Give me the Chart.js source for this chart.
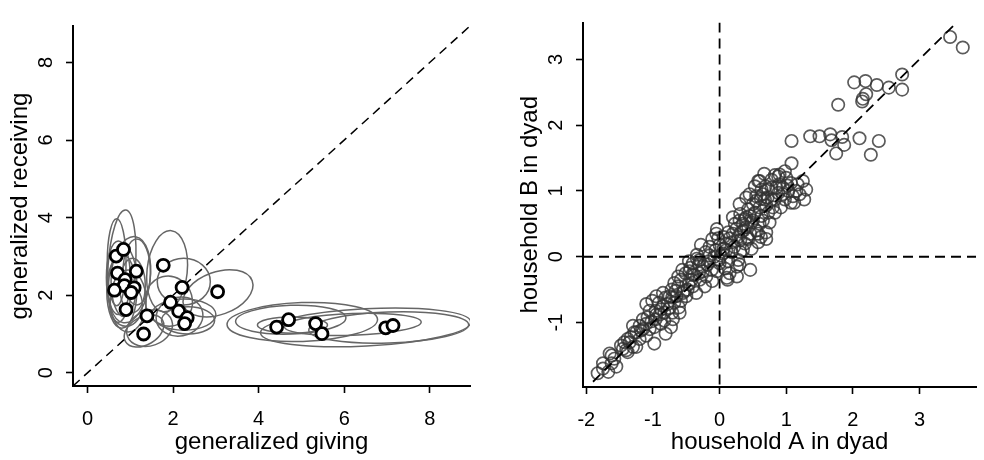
<!DOCTYPE html>
<html>
<head>
<meta charset="utf-8">
<script src="https://cdn.jsdelivr.net/npm/chart.js@4.4.1/dist/chart.umd.min.js"></script>
<style>
html, body { margin: 0; padding: 0; background: #fff; }
.panel { position: absolute; top: 0; width: 492px; height: 460px; }
#left-panel { left: 0; }
#right-panel { left: 492px; }
</style>
</head>
<body>
<div class="panel" id="left-panel"><canvas id="giving-chart" width="492" height="460"></canvas></div>
<div class="panel" id="right-panel"><canvas id="dyad-chart" width="492" height="460"></canvas></div>
<script>
// ---- left panel: generalized giving vs receiving ----
const givingX = [0.67, 0.84, 0.70, 1.14, 0.88, 0.86, 0.63, 1.09, 1.02, 0.90,
                 1.77, 2.21, 3.04, 1.94, 1.39, 2.13, 2.33, 2.27, 1.31,
                 4.42, 4.70, 5.33, 5.48, 6.97, 7.14];
const receivingY = [3.01, 3.18, 2.57, 2.62, 2.40, 2.25, 2.13, 2.19, 2.07, 1.63,
                    2.77, 2.20, 2.09, 1.82, 1.47, 1.59, 1.42, 1.27, 1.00,
                    1.18, 1.37, 1.27, 1.01, 1.16, 1.22];

// uncertainty ellipses: centre, half-widths, tilt (degrees)
const ellCx   = [0.80, 0.68, 0.72, 0.98, 0.85, 0.80, 1.05, 0.95, 1.15, 0.90,
                 1.86, 2.25, 3.05, 1.90, 1.45, 2.25, 2.35, 2.15, 1.32,
                 5.02, 4.75, 4.79, 6.50, 7.04, 6.20];
const ellCy   = [2.75, 2.85, 2.45, 2.40, 2.35, 2.10, 2.25, 1.85, 2.60, 1.75,
                 2.62, 2.35, 2.05, 1.85, 1.15, 1.50, 1.35, 1.45, 1.08,
                 1.31, 1.37, 1.23, 1.17, 1.17, 1.25];
const ellRx   = [0.32, 0.22, 0.28, 0.48, 0.30, 0.35, 0.30, 0.42, 0.32, 0.38,
                 0.47, 0.62, 0.85, 0.55, 0.55, 0.75, 0.62, 0.55, 0.50,
                 1.76, 1.29, 0.82, 2.46, 1.87, 1.60];
const ellRy   = [1.45, 1.12, 0.95, 1.12, 0.90, 0.95, 0.70, 0.80, 0.85, 0.55,
                 1.05, 0.60, 0.55, 0.65, 0.45, 0.40, 0.35, 0.50, 0.36,
                 0.50, 0.37, 0.21, 0.48, 0.40, 0.28];
const ellTilt = [-4, 0, 0, -8, 0, 0, 0, 0, 0, 0,
                 -6, 0, 20, 15, 20, 0, 0, 10, 30,
                 2, 2, 0, 3, 2, 2];

const leftXTicks = [0, 2, 4, 6, 8];
const leftYTicks = [0, 2, 4, 6, 8];

// ---- right panel: household A vs household B ----
const householdA = [
  3.46, 3.65, 2.74, 2.74, 2.54, 2.36, 2.19, 2.02, 2.20, 2.15, 2.14, 1.78, 2.10, 2.39, 2.27,
  1.36, 1.50, 1.66, 1.68, 1.84, 1.87, 1.75, 1.08, 1.08, 0.98, 0.90, 0.83, 0.67, 0.58, 0.78,
  0.53, 0.63, 0.73, 0.55, 0.68, 0.83, 0.98, 1.07, 1.17, 1.25, 1.20, 1.27, 1.12, 1.30, 1.03,
  0.88, 0.60, 0.69, 0.88, 0.78, 1.07, 0.95, 1.15,
  0.83, 0.73, 0.63, 0.53, 0.43, 0.31, 0.38, 0.48, 0.60, 0.75, 0.70, 0.58, 0.46, 0.36, 0.23,
  0.13, 0.06, -0.04, -0.11, 0.18, 0.31, 0.43, 0.58, 0.70, 0.31, 0.18, 0.06, -0.06, -0.21, -0.34,
  -0.46, -0.31, -0.16, -0.01, 0.13, 0.28, 0.46, 0.26, -0.56, -0.41, 0.26, 0.12, -0.11, -0.31, -0.51,
  -0.58, -0.46, -0.53, -0.66, -0.71, -0.58, -0.78, -0.61, -0.71, -0.83, -0.96, -1.05, -1.10, -1.01, -0.91,
  -0.81, -1.08, -0.96, -0.83, -0.73, -0.98, -1.10, -1.15, -1.25, -1.10, -1.20, -1.33, -1.43, -1.30, -1.38,
  -1.25, -0.98, -1.62, -1.62, -1.75, -1.55, -1.67, -1.83, -1.65, -1.38, -1.28, -1.40, -0.81, -0.68, -0.44,
  -0.34, 0.11, -0.04,
  -0.25, -0.15, 0.02, 0.10, 0.20, 0.35, 0.50, 0.40, 0.30, 0.60, 0.45, 0.25, 0.00, -0.20, -0.40,
  -0.50, -0.62, -0.72, -0.85, -0.90, -0.70, -0.60, -0.40, -0.28, 0.08, 0.35, 0.55, 0.62, 0.70, 0.92,
  0.85, 1.00, -1.48, -1.20, -1.02, -0.88, -0.35, -0.22, 0.48,
  -1.75, -1.58, -1.45, -1.35, -1.18, -1.05, -0.95, -0.88, -0.75, -0.68, -0.65, -0.55, -0.48, -0.42, -0.38,
  -0.30, -0.25, -0.18, -0.12, -0.08, 0.00, 0.05, 0.10, 0.15, 0.22, 0.28, 0.33, 0.40, 0.42, 0.50,
  0.52, 0.55, 0.65, 0.72, 0.78, 0.80, 0.90, 0.95, 1.02, 1.10, 0.65, 0.40, 0.20, 0.30, -0.02,
  -0.15, -0.30, -0.45, -0.62, -0.75, -0.95, -0.85, -1.15, -1.30, 0.62, 0.38, 0.15, 0.30, -0.05, 0.45
];
const householdB = [
  3.34, 3.18, 2.77, 2.54, 2.57, 2.61, 2.67, 2.65, 2.47, 2.40, 2.36, 2.31, 1.80, 1.76, 1.55,
  1.83, 1.83, 1.86, 1.77, 1.82, 1.70, 1.57, 1.76, 1.42, 1.30, 1.25, 1.24, 1.26, 1.15, 1.17,
  1.07, 1.02, 1.02, 0.92, 0.87, 0.87, 0.87, 1.12, 1.10, 1.15, 0.95, 0.87, 0.82, 1.02, 1.00,
  1.22, 1.15, 1.07, 0.97, 0.87, 0.82, 1.05, 1.00,
  0.67, 0.67, 0.62, 0.67, 0.72, 0.65, 0.57, 0.52, 0.50, 0.52, 0.37, 0.35, 0.35, 0.40, 0.50,
  0.37, 0.30, 0.42, 0.27, 0.22, 0.25, 0.27, 0.22, 0.27, 0.07, 0.07, 0.12, 0.10, 0.07, 0.03,
  -0.07, -0.12, -0.07, -0.05, -0.07, -0.05, -0.20, -0.15, -0.20, -0.27, -0.30, -0.35, -0.37, -0.25, -0.25,
  -0.35, -0.42, -0.52, -0.52, -0.62, -0.67, -0.72, -0.77, -0.85, -0.85, -0.82, -0.82, -0.72, -0.67, -0.70,
  -0.62, -0.92, -0.95, -0.97, -1.07, -1.07, -1.02, -1.10, -1.15, -1.20, -1.25, -1.22, -1.30, -1.37, -1.45,
  -1.37, -1.32, -1.50, -1.62, -1.62, -1.67, -1.75, -1.77, -1.47, -1.25, -1.15, -1.42, -1.17, -0.40, -0.17,
  -0.03, -0.32, -0.22,
  -0.15, 0.02, 0.02, 0.20, 0.35, 0.50, 0.80, 0.90, 0.80, 0.75, 0.62, 0.42, 0.18, -0.30, -0.45,
  -0.60, -0.45, -0.50, -0.75, -0.88, -0.95, -0.85, -0.10, 0.18, -0.18, 0.10, 0.40, 0.88, 0.78, 0.75,
  1.05, 1.20, -1.35, -1.05, -0.98, -1.02, -0.55, -0.45, 0.12,
  -1.70, -1.55, -1.40, -1.30, -1.12, -1.10, -0.88, -0.80, -0.78, -0.70, -0.60, -0.55, -0.50, -0.35, -0.28,
  -0.35, -0.22, -0.12, -0.20, 0.00, -0.10, 0.05, 0.10, 0.28, 0.15, 0.30, 0.38, 0.45, 0.30, 0.55,
  0.65, 0.85, 0.95, 0.90, 1.05, 0.75, 1.10, 0.95, 1.08, 0.92, 0.55, 0.60, 0.60, 0.55, 0.28,
  0.15, -0.05, -0.22, -0.30, -0.60, -0.60, -0.55, -0.95, -1.05, 0.30, 0.20, -0.25, -0.12, 0.35, 0.95
];
const diagFrom = -1.9;
const diagTo = 3.56;

const rightXTicks = [-2, -1, 0, 1, 2, 3];
const rightYTicks = [-1, 0, 1, 2, 3];

const FONT = "'Liberation Sans', Arial, Helvetica, sans-serif";

function makeAxis(min, max, tickValues, titleText, isY, size, tickPad, titlePad) {
    return {
        type: 'linear',
        min: min,
        max: max,
        afterBuildTicks: function (scale) {
            scale.ticks = tickValues.map(v => ({ value: v }));
        },
        afterFit: function (scale) {
            if (isY) { scale.width = size; } else { scale.height = size; }
        },
        border: { display: true, color: '#000', width: 2 },
        grid: { drawOnChartArea: false, drawTicks: true, tickLength: 7, tickColor: '#000', tickWidth: 1.6 },
        ticks: {
            color: '#000',
            font: { family: FONT, size: 20 },
            padding: tickPad,
            autoSkip: false,
            minRotation: isY ? 90 : 0,
            maxRotation: isY ? 90 : 0,
            crossAlign: isY ? 'center' : 'near'
        },
        title: {
            display: true,
            text: titleText,
            color: '#000',
            font: { family: FONT, size: 24 },
            padding: isY ? { top: titlePad, bottom: 0 } : { top: 0, bottom: titlePad }
        }
    };
}

function clipToArea(ctx, area) {
    ctx.beginPath();
    ctx.rect(area.left, area.top, area.right - area.left, area.bottom - area.top);
    ctx.clip();
}

const ellipsePlugin = {
    id: 'ellipses',
    beforeDatasetsDraw(chart) {
        const { ctx, chartArea, scales: { x, y } } = chart;
        ctx.save();
        clipToArea(ctx, chartArea);
        ctx.strokeStyle = '#666';
        ctx.lineWidth = 1.5;
        ellCx.forEach((cx, i) => {
            const px = x.getPixelForValue(cx);
            const py = y.getPixelForValue(ellCy[i]);
            const rx = Math.abs(x.getPixelForValue(cx + ellRx[i]) - px);
            const ry = Math.abs(y.getPixelForValue(ellCy[i] + ellRy[i]) - py);
            ctx.beginPath();
            ctx.ellipse(px, py, rx, ry, -ellTilt[i] * Math.PI / 180, 0, 2 * Math.PI);
            ctx.stroke();
        });
        // y = x reference line
        const lo = Math.min(x.min, y.min), hi = Math.max(x.max, y.max);
        ctx.setLineDash([9, 6]);
        ctx.strokeStyle = '#000';
        ctx.lineWidth = 1.5;
        ctx.beginPath();
        ctx.moveTo(x.getPixelForValue(lo), y.getPixelForValue(lo));
        ctx.lineTo(x.getPixelForValue(hi), y.getPixelForValue(hi));
        ctx.stroke();
        ctx.restore();
    }
};

const refLinePlugin = {
    id: 'refLines',
    afterDatasetsDraw(chart) {
        const { ctx, chartArea, scales: { x, y } } = chart;
        ctx.save();
        clipToArea(ctx, chartArea);
        ctx.setLineDash([10, 6]);
        ctx.strokeStyle = '#000';
        ctx.lineWidth = 1.8;
        ctx.beginPath();
        ctx.moveTo(chartArea.left, y.getPixelForValue(0));
        ctx.lineTo(chartArea.right, y.getPixelForValue(0));
        ctx.moveTo(x.getPixelForValue(0), chartArea.top);
        ctx.lineTo(x.getPixelForValue(0), chartArea.bottom);
        ctx.moveTo(x.getPixelForValue(diagFrom), y.getPixelForValue(diagFrom));
        ctx.lineTo(x.getPixelForValue(diagTo), y.getPixelForValue(diagTo));
        ctx.stroke();
        ctx.restore();
    }
};

const ctx1 = document.getElementById('giving-chart').getContext('2d');
const givingChart = new Chart(ctx1, {
    type: 'scatter',
    data: {
        datasets: [{
            data: givingX.map((v, i) => ({ x: v, y: receivingY[i] })),
            pointRadius: 6,
            pointBorderWidth: 2.8,
            pointBorderColor: '#000',
            pointBackgroundColor: '#fff'
        }]
    },
    options: {
        responsive: false,
        animation: false,
        layout: { padding: { left: 0, right: 22, top: 17, bottom: 0 } },
        plugins: { legend: { display: false }, tooltip: { enabled: false } },
        scales: {
            x: makeAxis(-0.34, 8.94, leftXTicks, 'generalized giving', false, 74, 14, 3),
            y: makeAxis(-0.34, 8.94, leftYTicks, 'generalized receiving', true, 73, 14, 6)
        }
    },
    plugins: [ellipsePlugin]
});

const ctx2 = document.getElementById('dyad-chart').getContext('2d');
const dyadChart = new Chart(ctx2, {
    type: 'scatter',
    data: {
        datasets: [{
            data: householdA.map((v, i) => ({ x: v, y: householdB[i] })),
            pointRadius: 6.2,
            pointBorderWidth: 1.7,
            pointBorderColor: 'rgba(50,50,50,0.8)',
            pointBackgroundColor: 'rgba(0,0,0,0)'
        }]
    },
    options: {
        responsive: false,
        animation: false,
        layout: { padding: { left: 0, right: 4, top: 17, bottom: 0 } },
        plugins: { legend: { display: false }, tooltip: { enabled: false } },
        scales: {
            x: makeAxis(-2.05, 3.85, rightXTicks, 'household A in dyad', false, 73, 14, 3),
            y: makeAxis(-1.98, 3.56, rightYTicks, 'household B in dyad', true, 91, 10.5, 24)
        }
    },
    plugins: [refLinePlugin]
});
</script>
</body>
</html>
